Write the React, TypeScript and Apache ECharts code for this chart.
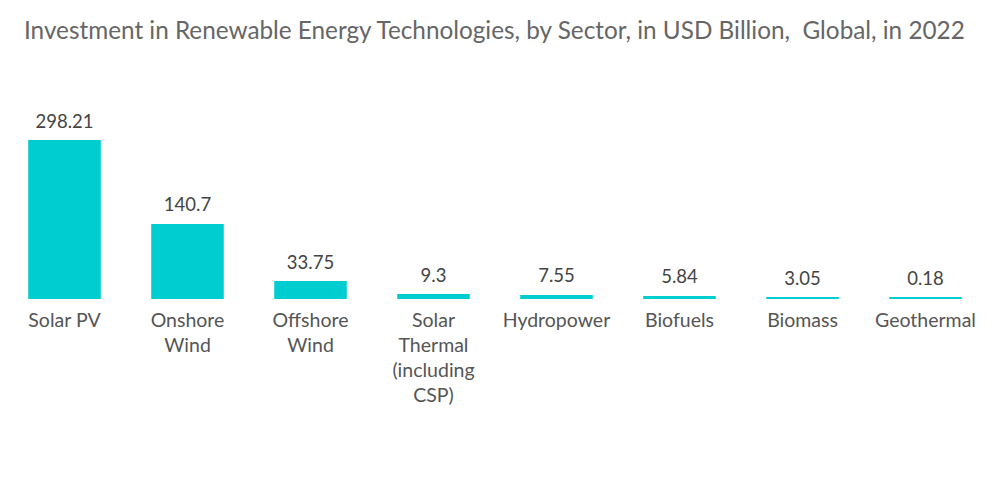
import React, { useEffect, useRef } from "react";
import * as echarts from "echarts";

const categories = [
  "Solar PV",
  "Onshore\nWind",
  "Offshore\nWind",
  "Solar\nThermal\n(including\nCSP)",
  "Hydropower",
  "Biofuels",
  "Biomass",
  "Geothermal",
];
const values = [298.21, 140.7, 33.75, 9.3, 7.55, 5.84, 3.05, 0.18];
const titleText = "Investment in Renewable Energy Technologies, by Sector, in USD Billion,  Global, in 2022";

export default function App() {
  const ref = useRef<HTMLDivElement>(null);
  useEffect(() => {
    if (!ref.current) return;
    const chart = echarts.init(ref.current, null, { renderer: "svg" });
    chart.setOption({
      animation: false,
      backgroundColor: "#ffffff",
      title: {
        text: titleText,
        left: 24,
        top: 17,
        padding: 0,
        textStyle: {
          fontFamily: "Lato",
          fontSize: 24.3,
          fontWeight: "normal",
          color: "#666666",
        },
      },
      grid: { left: 3, right: 13, top: 140, bottom: 205, containLabel: false },
      xAxis: {
        type: "category",
        data: categories,
        axisLine: { show: false },
        axisTick: { show: false },
        axisLabel: {
          interval: 0,
          fontFamily: "Lato",
          fontSize: 19.5,
          color: "#555555",
          lineHeight: 25,
          margin: 8,
        },
      },
      yAxis: {
        type: "value",
        min: 0,
        max: 298.21,
        show: false,
        splitLine: { show: false },
      },
      series: [
        {
          type: "bar",
          data: values,
          barCategoryGap: "41%",
          barMinHeight: 2,
          itemStyle: { color: "#00CDD0" },
          label: {
            show: true,
            position: "top",
            distance: 10,
            fontFamily: "Lato",
            fontSize: 18.5,
            color: "#444444",
          },
        },
      ],
    });
    return () => chart.dispose();
  }, []);
  return (
    <div
      ref={ref}
      style={{ position: "fixed", left: 0, top: 0, width: 1000, height: 504 }}
    />
  );
}
